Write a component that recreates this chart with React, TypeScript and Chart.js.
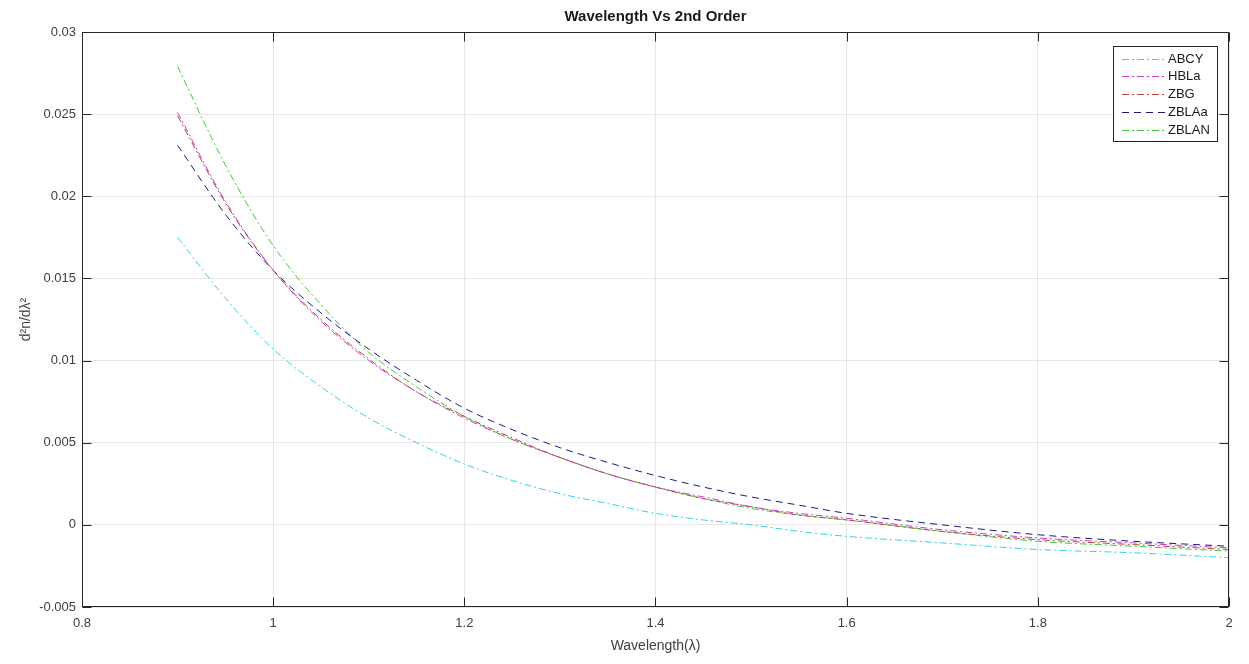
import { useEffect, useRef } from 'react';
import { Chart, registerables } from 'chart.js';

Chart.register(...registerables);

const wavelength = [0.9, 0.95, 1.0, 1.05, 1.1, 1.15, 1.2, 1.25, 1.3, 1.35, 1.4, 1.45, 1.5, 1.55, 1.6, 1.7, 1.8, 1.9, 2.0];
const abcy = [0.0175, 0.0138, 0.0107, 0.0084, 0.0065, 0.0050, 0.0037, 0.0027, 0.0019, 0.0013, 0.0007, 0.0003, 0.0000, -0.0004, -0.0007, -0.0011, -0.0015, -0.0017, -0.0020];
const hbla = [0.0251, 0.0197, 0.0155, 0.0124, 0.0100, 0.0081, 0.0065, 0.0052, 0.0041, 0.0031, 0.0023, 0.0017, 0.0011, 0.0007, 0.0004, -0.0003, -0.0008, -0.0011, -0.0014];
const zbg = [0.0249, 0.0196, 0.0155, 0.0125, 0.0101, 0.0081, 0.0066, 0.0053, 0.0041, 0.0031, 0.0023, 0.0016, 0.0011, 0.0006, 0.0003, -0.0004, -0.0009, -0.0012, -0.0015];
const zblaa = [0.0231, 0.0189, 0.0155, 0.0129, 0.0107, 0.0088, 0.0071, 0.0058, 0.0047, 0.0038, 0.0030, 0.0023, 0.0017, 0.0012, 0.0007, 0.0000, -0.0006, -0.0010, -0.0013];
const zblan = [0.0279, 0.0219, 0.0170, 0.0134, 0.0105, 0.0084, 0.0066, 0.0052, 0.0041, 0.0031, 0.0023, 0.0016, 0.0010, 0.0006, 0.0003, -0.0004, -0.0010, -0.0013, -0.0016];

const seriesNames = ['ABCY', 'HBLa', 'ZBG', 'ZBLAa', 'ZBLAN'];
const seriesValues = [abcy, hbla, zbg, zblaa, zblan];
const seriesColors = ['#33d3e3', '#cc3fcc', '#b5473a', '#1c1c80', '#3bcc3b'];
const dashDot = [7, 3, 2, 3];
const dashed = [7, 5];
const seriesDashes = [dashDot, dashDot, dashDot, dashed, dashDot];

const xTickValues = [0.8, 1.0, 1.2, 1.4, 1.6, 1.8, 2.0];
const xTickLabels = ['0.8', '1', '1.2', '1.4', '1.6', '1.8', '2'];
const yTickValues = [-0.005, 0, 0.005, 0.01, 0.015, 0.02, 0.025, 0.03];
const yTickLabels = ['-0.005', '0', '0.005', '0.01', '0.015', '0.02', '0.025', '0.03'];

const titleText = 'Wavelength Vs 2nd Order';
const xTitle = 'Wavelength(\u03bb)';
const yTitle = 'd\u00b2n/d\u03bb\u00b2';

const FONT = '"Liberation Sans", Arial, Helvetica, sans-serif';
const AXIS_COLOR = '#262626';
const TEXT_COLOR = '#404040';

const decorPlugin = {
  id: 'decor',
  afterDraw(chart: any) {
    const ctx = chart.ctx;
    const { left, right, top, bottom } = chart.chartArea;
    const xs = chart.scales.x;
    const ys = chart.scales.y;
    ctx.save();
    // frame
    ctx.strokeStyle = AXIS_COLOR;
    ctx.lineWidth = 1;
    ctx.setLineDash([]);
    const L = Math.round(left) + 0.5, R = Math.round(right) - 0.5;
    const T = Math.round(top) + 0.5, B = Math.round(bottom) - 0.5;
    ctx.strokeRect(L, T, R - L, B - T);
    // inward ticks
    const tl = 9;
    ctx.beginPath();
    xTickValues.forEach((v) => {
      const px = Math.round(xs.getPixelForValue(v)) + 0.5;
      ctx.moveTo(px, B); ctx.lineTo(px, B - tl);
      ctx.moveTo(px, T); ctx.lineTo(px, T + tl);
    });
    yTickValues.forEach((v) => {
      const py = Math.round(ys.getPixelForValue(v)) + 0.5;
      ctx.moveTo(L, py); ctx.lineTo(L + tl, py);
      ctx.moveTo(R, py); ctx.lineTo(R - tl, py);
    });
    ctx.stroke();

    // title
    ctx.fillStyle = '#1a1a1a';
    ctx.font = `bold 15px ${FONT}`;
    ctx.textAlign = 'center';
    ctx.textBaseline = 'middle';
    ctx.fillText(titleText, (left + right) / 2, 17);
    // x title
    ctx.fillStyle = TEXT_COLOR;
    ctx.font = `14px ${FONT}`;
    ctx.fillText(xTitle, (left + right) / 2, 646);
    // y title
    ctx.save();
    ctx.translate(26, (top + bottom) / 2);
    ctx.rotate(-Math.PI / 2);
    ctx.fillText(yTitle, 0, 0);
    ctx.restore();

    // legend
    const bx = 1113.5, by = 46.5, bw = 104, bh = 95;
    ctx.fillStyle = '#ffffff';
    ctx.fillRect(bx, by, bw, bh);
    ctx.strokeStyle = AXIS_COLOR;
    ctx.lineWidth = 1;
    ctx.strokeRect(bx, by, bw, bh);
    ctx.font = `13px ${FONT}`;
    ctx.textAlign = 'left';
    ctx.textBaseline = 'middle';
    seriesNames.forEach((name, i) => {
      const y = Math.round(by + 12 + i * 17.8) + 0.5;
      ctx.strokeStyle = seriesColors[i];
      ctx.setLineDash(seriesDashes[i]);
      ctx.beginPath();
      ctx.moveTo(1122, y);
      ctx.lineTo(1165, y);
      ctx.stroke();
      ctx.setLineDash([]);
      ctx.fillStyle = '#1a1a1a';
      ctx.fillText(name, 1168, y);
    });
    ctx.restore();
  },
};

export default function App() {
  const ref = useRef<HTMLCanvasElement>(null);
  useEffect(() => {
    const datasets = seriesNames.map((name, i) => ({
      label: name,
      data: wavelength.map((x, j) => ({ x, y: seriesValues[i][j] })),
      borderColor: seriesColors[i],
      borderWidth: 1,
      borderDash: seriesDashes[i],
      pointRadius: 0,
      fill: false,
      cubicInterpolationMode: 'monotone' as const,
    }));
    const chart = new Chart(ref.current!, {
      type: 'line',
      data: { datasets },
      options: {
        animation: false,
        responsive: false,
        devicePixelRatio: 1,
        layout: { padding: { top: 32, right: 20, left: 0, bottom: 0 } },
        plugins: { legend: { display: false }, tooltip: { enabled: false }, title: { display: false } },
        scales: {
          x: {
            type: 'linear',
            min: 0.8,
            max: 2,
            afterBuildTicks: (s: any) => { s.ticks = xTickValues.map((v) => ({ value: v })); },
            afterFit: (s: any) => { s.height = 57; },
            ticks: {
              autoSkip: false,
              maxRotation: 0,
              padding: 9,
              color: TEXT_COLOR,
              font: { family: FONT, size: 13 },
              callback: (_v: any, i: number) => xTickLabels[i],
            },
            grid: { color: '#e6e6e6', drawTicks: false },
            border: { display: false },
          },
          y: {
            type: 'linear',
            min: -0.005,
            max: 0.03,
            afterBuildTicks: (s: any) => { s.ticks = yTickValues.map((v) => ({ value: v })); },
            afterFit: (s: any) => { s.width = 82; },
            ticks: {
              autoSkip: false,
              padding: 6,
              color: TEXT_COLOR,
              font: { family: FONT, size: 13 },
              callback: (_v: any, i: number) => yTickLabels[i],
            },
            grid: { color: '#e6e6e6', drawTicks: false },
            border: { display: false },
          },
        },
      },
      plugins: [decorPlugin],
    });
    return () => chart.destroy();
  }, []);
  return (
    <div style={{ position: 'fixed', left: 0, top: 0, width: 1249, height: 664, background: '#fff' }}>
      <canvas ref={ref} width={1249} height={664} style={{ display: 'block' }} />
    </div>
  );
}
